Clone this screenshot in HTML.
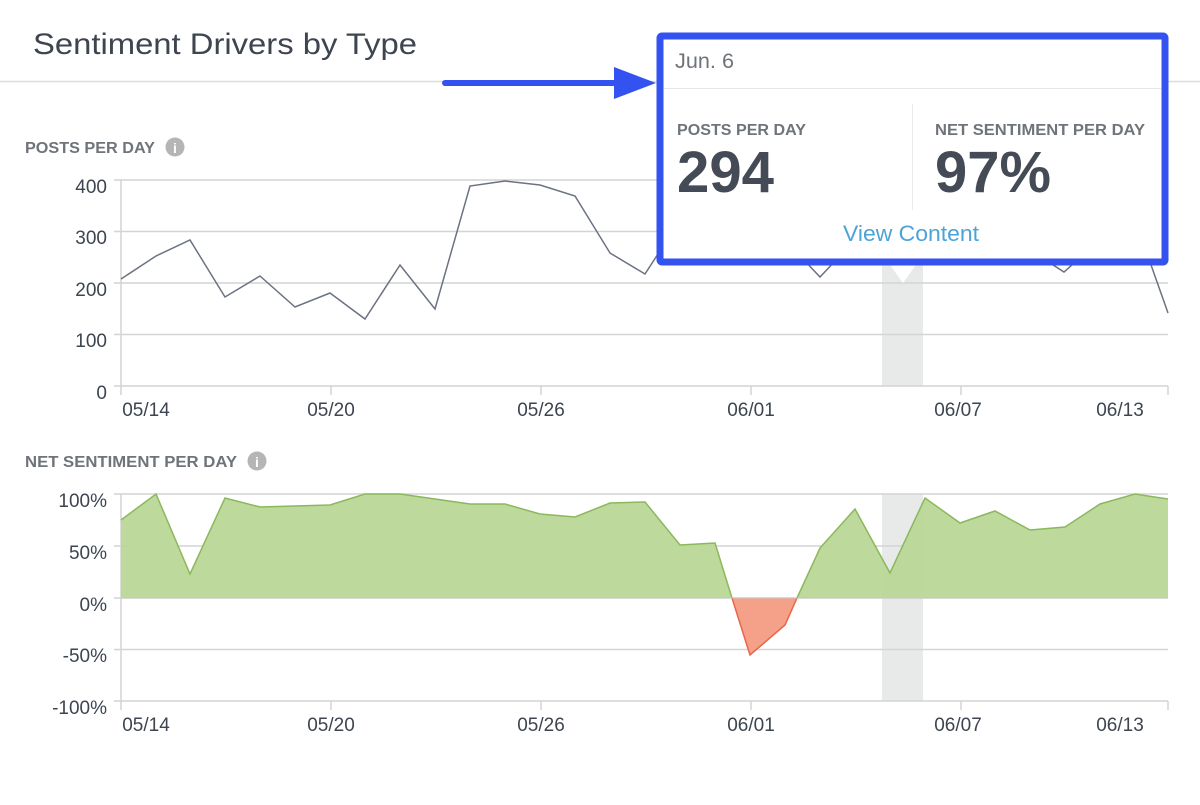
<!DOCTYPE html>
<html><head><meta charset="utf-8"><style>
body{margin:0;width:1200px;height:800px;background:#fff;overflow:hidden;font-family:"Liberation Sans",sans-serif;}
svg text{font-family:"Liberation Sans",sans-serif;}
</style></head><body>
<svg width="1200" height="800" viewBox="0 0 1200 800" xmlns="http://www.w3.org/2000/svg">
<text x="33" y="54" font-size="30" fill="#3d4550" textLength="384" lengthAdjust="spacingAndGlyphs">Sentiment Drivers by Type</text>
<line x1="0" y1="81.5" x2="1200" y2="81.5" stroke="#dcdcdc" stroke-width="1.5"/>

<!-- chart 1 -->
<text x="25" y="153" font-size="16" font-weight="bold" fill="#6f747a" textLength="130" lengthAdjust="spacingAndGlyphs">POSTS PER DAY</text>
<circle cx="175" cy="147" r="9.5" fill="#b5b5b5"/><text x="175" y="153" font-size="14" font-weight="bold" fill="#fff" text-anchor="middle">i</text>
<rect x="882" y="180" width="41" height="206" fill="#e8e9e9"/>
<g stroke="#d4d4d4" stroke-width="1.5">
<line x1="114" y1="180" x2="1168" y2="180"/><line x1="114" y1="231.5" x2="1168" y2="231.5"/>
<line x1="114" y1="283" x2="1168" y2="283"/><line x1="114" y1="334.5" x2="1168" y2="334.5"/>
<line x1="114" y1="386" x2="1168" y2="386"/><line x1="121" y1="180" x2="121" y2="395"/>
<line x1="331" y1="386" x2="331" y2="395"/><line x1="541" y1="386" x2="541" y2="395"/>
<line x1="751" y1="386" x2="751" y2="395"/><line x1="961" y1="386" x2="961" y2="395"/><line x1="1168" y1="386" x2="1168" y2="395"/>
</g>
<g font-size="19" fill="#3d4550" text-anchor="end">
<text x="107" y="193">400</text><text x="107" y="244">300</text><text x="107" y="296">200</text><text x="107" y="347">100</text><text x="107" y="399">0</text>
</g>
<g font-size="19" fill="#3d4550" text-anchor="middle">
<text x="146" y="416">05/14</text><text x="331" y="416">05/20</text><text x="541" y="416">05/26</text><text x="751" y="416">06/01</text><text x="958" y="416">06/07</text><text x="1120" y="416">06/13</text>
</g>
<polyline fill="none" stroke="#6b7280" stroke-width="1.5" points="121,279 156,256 190,240 225,297 260,276 295,307 330,293 365,319 400,265 435,309 470,186 505,181 540,185 575,196 610,253 645,274 680,220 715,225 750,230 785,240 820,277 855,240 890,230 925,225 960,230 995,240 1030,250 1064,272 1100,240 1150,262 1168,313"/>

<!-- chart 2 -->
<text x="25" y="467" font-size="16" font-weight="bold" fill="#6f747a" textLength="212" lengthAdjust="spacingAndGlyphs">NET SENTIMENT PER DAY</text>
<circle cx="257" cy="461" r="9.5" fill="#b5b5b5"/><text x="257" y="467" font-size="14" font-weight="bold" fill="#fff" text-anchor="middle">i</text>
<rect x="882" y="494" width="41" height="207" fill="#e8e9e9"/>
<g stroke="#d4d4d4" stroke-width="1.5">
<line x1="114" y1="494" x2="1168" y2="494"/><line x1="114" y1="546" x2="1168" y2="546"/>
<line x1="114" y1="598" x2="1168" y2="598"/><line x1="114" y1="649.5" x2="1168" y2="649.5"/>
<line x1="114" y1="701" x2="1168" y2="701"/><line x1="121" y1="494" x2="121" y2="710"/>
<line x1="331" y1="701" x2="331" y2="710"/><line x1="541" y1="701" x2="541" y2="710"/>
<line x1="751" y1="701" x2="751" y2="710"/><line x1="961" y1="701" x2="961" y2="710"/><line x1="1168" y1="701" x2="1168" y2="710"/>
</g>
<polygon fill="#b9d797" fill-opacity="0.95" points="121,598 121,520 156,494 190,574 225,498 260,507 295,506 330,505 365,494 400,494 435,499 470,504 505,504 540,514 575,517 610,503 645,502 680,545 715,543 732,598"/>
<polygon fill="#b9d797" fill-opacity="0.95" points="797,598 820,548 855,509 890,573 925,498 960,523 995,511 1030,530 1065,527 1100,504 1135,494 1168,499 1168,598"/>
<polygon fill="#f5a088" points="732,598 750,655 785,625 797,598"/>
<polyline fill="none" stroke="#8cb85c" stroke-width="1.5" points="121,520 156,494 190,574 225,498 260,507 295,506 330,505 365,494 400,494 435,499 470,504 505,504 540,514 575,517 610,503 645,502 680,545 715,543 732,598"/>
<polyline fill="none" stroke="#8cb85c" stroke-width="1.5" points="797,598 820,548 855,509 890,573 925,498 960,523 995,511 1030,530 1065,527 1100,504 1135,494 1168,499"/>
<polyline fill="none" stroke="#e8664a" stroke-width="1.5" points="732,598 750,655 785,625 797,598"/>
<line x1="121" y1="598" x2="1168" y2="598" stroke="#c8c8c8" stroke-width="1"/>
<g font-size="19" fill="#3d4550" text-anchor="end">
<text x="107" y="507">100%</text><text x="107" y="559">50%</text><text x="107" y="611">0%</text><text x="107" y="662">-50%</text><text x="107" y="714">-100%</text>
</g>
<g font-size="19" fill="#3d4550" text-anchor="middle">
<text x="146" y="731">05/14</text><text x="331" y="731">05/20</text><text x="541" y="731">05/26</text><text x="751" y="731">06/01</text><text x="958" y="731">06/07</text><text x="1120" y="731">06/13</text>
</g>

<!-- arrow -->
<line x1="445" y1="83" x2="618" y2="83" stroke="#3352f0" stroke-width="6" stroke-linecap="round"/>
<polygon points="614,67 656,83 614,99" fill="#3352f0"/>

<!-- tooltip -->
<polygon points="888,262 903,283 918,262" fill="#fff"/>
<rect x="660" y="36" width="505" height="226" fill="#fff" stroke="#3352f0" stroke-width="7" rx="2"/>
<line x1="664" y1="88.5" x2="1161" y2="88.5" stroke="#e6e6e6" stroke-width="1"/>
<line x1="912.5" y1="104" x2="912.5" y2="210" stroke="#eaeaea" stroke-width="1"/>
<text x="675" y="68" font-size="21" fill="#6f747a" textLength="59" lengthAdjust="spacingAndGlyphs">Jun. 6</text>
<text x="677" y="135" font-size="16" font-weight="bold" fill="#6f747a" textLength="129" lengthAdjust="spacingAndGlyphs">POSTS PER DAY</text>
<text x="677" y="192" font-size="58" font-weight="bold" fill="#454b56" textLength="97" lengthAdjust="spacingAndGlyphs">294</text>
<text x="935" y="135" font-size="16" font-weight="bold" fill="#6f747a" textLength="210" lengthAdjust="spacingAndGlyphs">NET SENTIMENT PER DAY</text>
<text x="935" y="192" font-size="58" font-weight="bold" fill="#454b56" textLength="116" lengthAdjust="spacingAndGlyphs">97%</text>
<text x="843" y="241" font-size="22" fill="#4da3d8" textLength="136" lengthAdjust="spacingAndGlyphs">View Content</text>
</svg>
</body></html>
